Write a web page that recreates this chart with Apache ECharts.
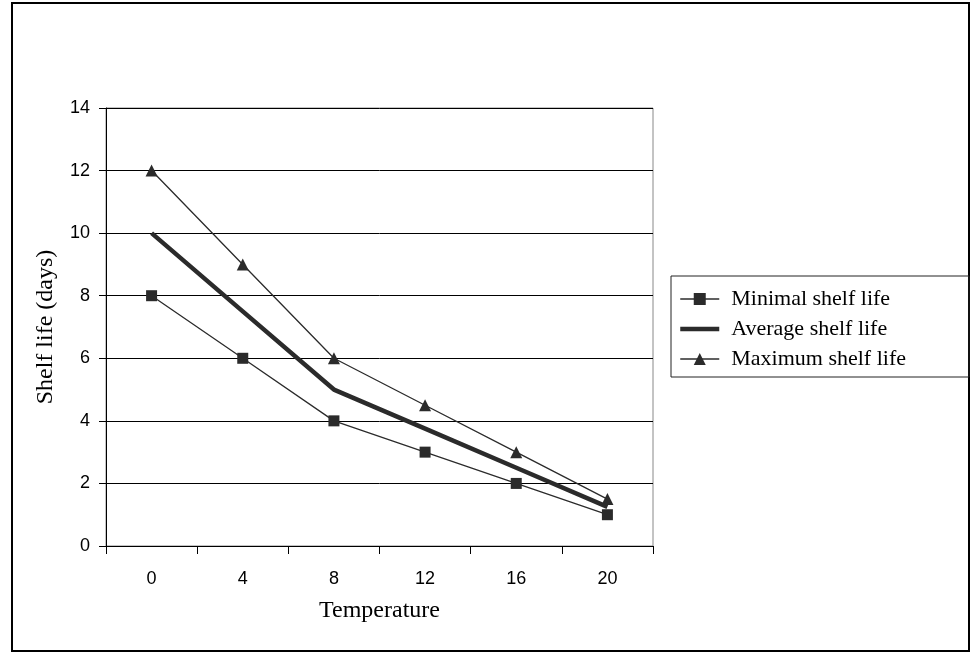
<!DOCTYPE html>
<html><head><meta charset="utf-8">
<script src="https://cdn.jsdelivr.net/npm/echarts@6/dist/echarts.min.js"></script>
<style>html,body{margin:0;padding:0;background:#fff}#c{width:972px;height:655px}</style>
</head><body><div id="c"></div>
<script>
const categories = ['0','4','8','12','16','20'];
const minimal = [8, 6, 4, 3, 2, 1];
const average = [10, 7.5, 5, 3.75, 2.5, 1.25];
const maximum = [12, 9, 6, 4.5, 3, 1.5];

const chart = echarts.init(document.getElementById('c'));
const dark = '#2b2b2b';
chart.setOption({
  animation: false,
  backgroundColor: '#fff',
  graphic: [{
    type: 'rect', shape: {x: 12, y: 3, width: 957, height: 648},
    style: {fill: 'none', stroke: '#000', lineWidth: 2}, silent: true, z: -1
  }, {
    type: 'rect', shape: {x: 671, y: 276, width: 298, height: 101},
    style: {fill: 'none', stroke: '#222', lineWidth: 1}, silent: true, z: -1
  }],
  grid: {left: 106, right: 319, top: 108, bottom: 109, show: true, borderColor: '#888', borderWidth: 1},
  legend: {
    orient: 'vertical', left: 678, top: 288,
    padding: 0, itemGap: 8,
    itemWidth: 39, itemHeight: 15,
    textStyle: {fontFamily: 'Liberation Serif', fontSize: 22, color: '#000', padding: [0, 0, 0, 7]},
    data: [
      {name: 'Minimal shelf life', lineStyle: {width: 1.3, color: dark}},
      {name: 'Average shelf life', lineStyle: {width: 4.5, color: dark}, itemStyle: {opacity: 0}},
      {name: 'Maximum shelf life', lineStyle: {width: 1.3, color: dark}}
    ]
  },
  xAxis: {
    type: 'category', data: categories, boundaryGap: true,
    name: 'Temperature', nameLocation: 'middle', nameGap: 53,
    nameTextStyle: {fontFamily: 'Liberation Serif', fontSize: 24, color: '#000'},
    axisLine: {lineStyle: {color: '#000', width: 1}},
    axisTick: {show: true, length: 8, inside: false, lineStyle: {color: '#000'}},
    axisLabel: {fontFamily: 'Liberation Sans', fontSize: 18, color: '#000', margin: 24}
  },
  yAxis: {
    type: 'value', min: 0, max: 14, interval: 2,
    name: 'Shelf life (days)', nameLocation: 'middle', nameGap: 48,
    nameTextStyle: {fontFamily: 'Liberation Serif', fontSize: 24, color: '#000'},
    axisLine: {show: true, lineStyle: {color: '#000', width: 1}},
    axisTick: {show: true, length: 7, lineStyle: {color: '#000'}},
    axisLabel: {fontFamily: 'Liberation Sans', fontSize: 18, color: '#000', margin: 16},
    splitLine: {show: true, lineStyle: {color: '#000', width: 1}}
  },
  series: [
    {name: 'Minimal shelf life', type: 'line', data: minimal, symbol: 'rect', symbolSize: 11,
     lineStyle: {color: dark, width: 1.3}, itemStyle: {color: dark}, z: 3},
    {name: 'Average shelf life', type: 'line', data: average, symbol: 'none', showSymbol: false,
     lineStyle: {color: dark, width: 4.5}, itemStyle: {color: dark}, z: 2},
    {name: 'Maximum shelf life', type: 'line', data: maximum, symbol: 'triangle', symbolSize: 12,
     lineStyle: {color: dark, width: 1.3}, itemStyle: {color: dark}, z: 3}
  ]
});
</script></body></html>
